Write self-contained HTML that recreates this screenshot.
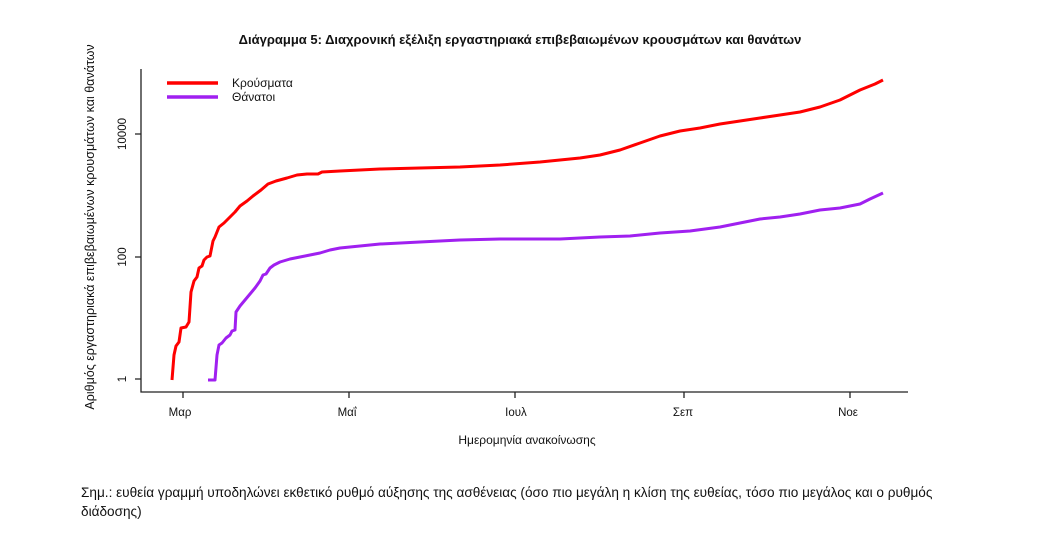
<!DOCTYPE html>
<html><head><meta charset="utf-8"><style>
body{margin:0;background:#fff;width:1049px;height:553px;overflow:hidden}
svg{display:block}
text{font-family:"Liberation Sans",sans-serif;fill:#111}
</style></head><body>
<svg width="1049" height="553" viewBox="0 0 1049 553">
<text x="520" y="44" text-anchor="middle" font-size="13" font-weight="bold">Διάγραμμα 5: Διαχρονική εξέλιξη εργαστηριακά επιβεβαιωμένων κρουσμάτων και θανάτων</text>
<g stroke="#222" stroke-width="1.3" fill="none">
<path d="M141 69V392H908"/>
<path d="M141 134h-6M141 257h-6M141 379h-6"/>
<path d="M183 392v6M349 392v6M515 392v6M684 392v6M850 392v6"/>
</g>
<g font-size="11.5">
<text transform="translate(126 134) rotate(-90)" text-anchor="middle">10000</text>
<text transform="translate(126 257) rotate(-90)" text-anchor="middle">100</text>
<text transform="translate(126 379) rotate(-90)" text-anchor="middle">1</text>
<text x="180" y="416" text-anchor="middle">Μαρ</text>
<text x="347" y="416" text-anchor="middle">Μαΐ</text>
<text x="516" y="416" text-anchor="middle">Ιουλ</text>
<text x="683" y="416" text-anchor="middle">Σεπ</text>
<text x="848" y="416" text-anchor="middle">Νοε</text>
<text x="527" y="444" text-anchor="middle" font-size="12">Ημερομηνία ανακοίνωσης</text>
<text transform="translate(94 227) rotate(-90)" text-anchor="middle" font-size="12.5">Αριθμός εργαστηριακά επιβεβαιωμένων κρουσμάτων και θανάτων</text>
<text x="232" y="87" font-size="12">Κρούσματα</text>
<text x="232" y="101" font-size="12">Θάνατοι</text>
</g>
<path d="M167 83H218" stroke="#f00" stroke-width="3.5"/>
<path d="M167 97H218" stroke="#a020f0" stroke-width="3.5"/>
<polyline fill="none" stroke="#f00" stroke-width="3" stroke-linejoin="round" points="172,380 174,355 176,346 179,342 181,328 186,327 189,322 191,292 194,281 197,277 199,268 202,266 204,260 207,257 210,256 213,241 215,237 219,227 224,223 228,219 231,216 235,212 240,206 247,201 253,196 261,190 268,184 276,181 287,178 297,175 307,174 318,174 322,172 340,171 380,169 420,168 460,167 500,165 540,162 580,158 600,155 620,150 640,143 660,136 680,131 700,128 720,124 740,121 760,118 780,115 800,112 820,107 840,100 860,90 875,84 883,80"/>
<polyline fill="none" stroke="#a020f0" stroke-width="3" stroke-linejoin="round" points="208,380 215,380 217,355 219,345 222,343 226,338 230,335 232,331 235,330 236,312 240,306 245,300 250,294 255,288 260,281 263,275 266,274 270,268 274,265 280,262 290,259 300,257 310,255 320,253 330,250 340,248 360,246 380,244 420,242 460,240 500,239 560,239 600,237 630,236 660,233 690,231 720,227 740,223 760,219 780,217 800,214 820,210 840,208 860,204 870,199 883,193"/>
<g font-size="13.6">
<text x="81" y="497">Σημ.: ευθεία γραμμή υποδηλώνει εκθετικό ρυθμό αύξησης της ασθένειας (όσο πιο μεγάλη η κλίση της ευθείας, τόσο πιο μεγάλος και ο ρυθμός</text>
<text x="81" y="516">διάδοσης)</text>
</g>
</svg>
</body></html>
